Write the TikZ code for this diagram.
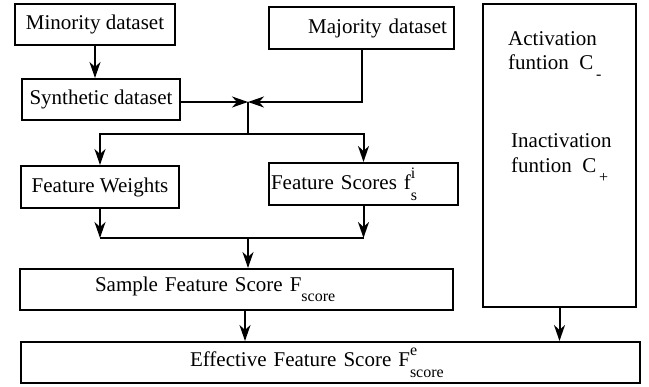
\documentclass[tikz,border=0pt]{standalone}
\usepackage{fontspec}
\setmainfont{Liberation Serif}
\usetikzlibrary{arrows.meta}
\newcommand{\lowsub}[1]{\raisebox{-0.48em}{\fontsize{16}{16}\selectfont #1}}
\newcommand{\highsup}[1]{\raisebox{0.55em}{\fontsize{16}{16}\selectfont #1}}
\tikzset{
  box/.style={draw, line width=2pt, inner sep=0pt},
  arr/.style={line width=2pt, -{Stealth[length=16pt,width=11pt,inset=5pt]}},
  ln/.style={line width=2pt},
  textblock/.style={anchor=north west, inner sep=0pt, align=left}
}
\begin{document}
\begin{tikzpicture}[x=1pt,y=-1pt,font=\fontsize{21}{24}\selectfont]
\useasboundingbox (0,0) rectangle (649,387);
\node[box, minimum width=160pt, minimum height=41pt] (minority) at (95,24.5) {Minority dataset};
\node[box, minimum width=158pt, minimum height=41pt] (synth) at (101,99.5) {Synthetic dataset};
\node[box, inner xsep=7pt, text width=171pt, align=right, minimum height=42pt] (majority) at (361.5,28) {Majority dataset};
\node[box, minimum width=158pt, minimum height=42pt] (weights) at (100,187) {Feature Weights};
\node[box, inner xsep=2pt, text width=185pt, align=left, minimum height=42pt] (scores) at (363.5,184) {Feature Scores f\makebox[0pt][l]{\highsup{i}}\lowsub{s}};
\node[box, inner xsep=75pt, text width=283pt, align=left, minimum height=41pt] (sample) at (236.5,289.5) {Sample Feature Score F\lowsub{score}};
\node[box, inner xsep=169pt, text width=281pt, align=left, minimum height=41pt] (effective) at (330.5,362.5) {Effective Feature Score F\makebox[0pt][l]{\highsup{e}}\lowsub{score}};
\node[box, minimum width=153pt, minimum height=303pt] (func) at (559.5,155.5) {};
\node[textblock] (act) at (508,31) {Activation\\funtion~~C\lowsub{\,-}};
\node[textblock] (inact) at (511,133.5) {Inactivation\\[1pt]funtion~~C\lowsub{\,+}};
\coordinate (join) at (248,102);
\coordinate (split) at (248,134);
\coordinate (merge) at (248,238);
\draw[arr] (minority.south) -- (minority.south |- synth.north);
\draw[arr] (synth.east |- join) -- (join);
\draw[arr] (majority.south) |- (join);
\draw[ln] (join) -- (split);
\draw[arr] (split) -| (weights.north);
\draw[arr] (split) -| (scores.north);
\draw[arr] (weights.south) -- (weights.south |- merge);
\draw[arr] (scores.south) -- (scores.south |- merge);
\draw[ln] (weights.south |- merge) -- (scores.south |- merge);
\draw[arr] (merge) -- (merge |- sample.north);
\draw[arr] ([xshift=8.5pt]sample.south) -- ([xshift=8.5pt]sample.south |- effective.north);
\draw[arr] (func.south) -- (func.south |- effective.north);
\end{tikzpicture}
\end{document}
